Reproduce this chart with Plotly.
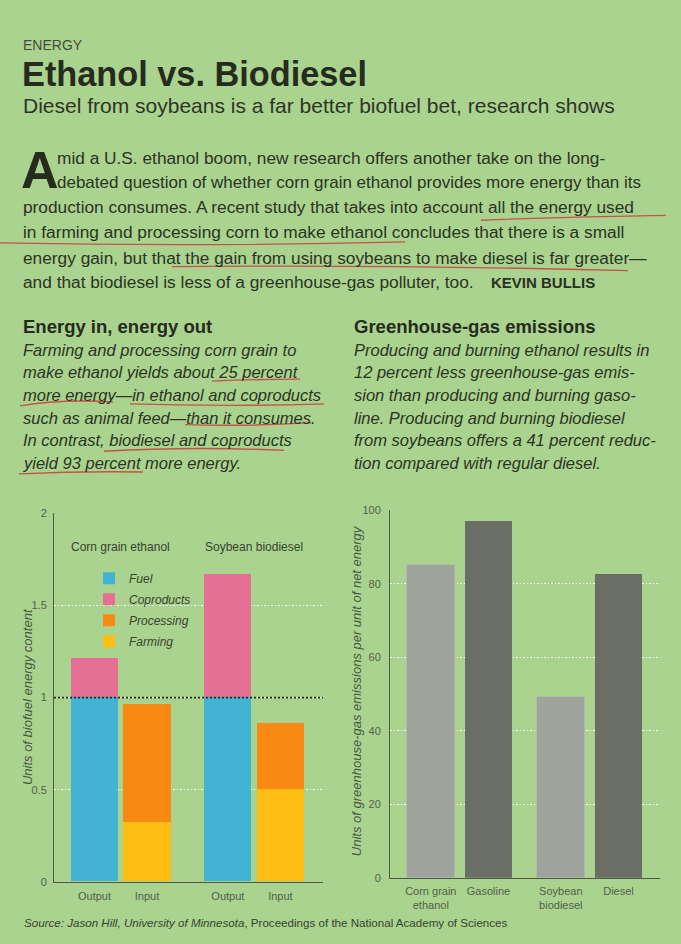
import plotly.graph_objects as go

W, H = 681, 944
BG = "#a9d38e"
TXT = "#2c3324"
GREY = "#4f5846"

# ---------------- data ----------------
energy_groups = ["Corn grain ethanol", "Soybean biodiesel"]
energy_bars = ["Output", "Input", "Output", "Input"]
fuel = [1.00, None, 1.00, None]
coproducts = [0.21, None, 0.67, None]
processing = [None, 0.64, None, 0.36]
farming = [None, 0.32, None, 0.50]
energy_ticks = [0, 0.5, 1, 1.5, 2]
energy_ticktext = ["0", "0.5", "1", "1.5", "2"]

ghg_categories = ["Corn grain<br>ethanol", "Gasoline", "Soybean<br>biodiesel", "Diesel"]
ghg_biofuel = [85, None, 49, None]
ghg_fossil = [None, 97, None, 82.5]
ghg_ticks = [0, 20, 40, 60, 80, 100]

# ---------------- text ----------------
kicker = "ENERGY"
title = "Ethanol vs. Biodiesel"
subtitle = "Diesel from soybeans is a far better biofuel bet, research shows"
body_lines = [
    "mid a U.S. ethanol boom, new research offers another take on the long-",
    "debated question of whether corn grain ethanol provides more energy than its",
    "production consumes. A recent study that takes into account all the energy used",
    "in farming and processing corn to make ethanol concludes that there is a small",
    "energy gain, but that the gain from using soybeans to make diesel is far greater\u2014",
    "and that biodiesel is less of a greenhouse-gas polluter, too.",
]
byline = "KEVIN BULLIS"
left_head = "Energy in, energy out"
left_lines = [
    "Farming and processing corn grain to",
    "make ethanol yields about 25 percent",
    "more energy\u2014in ethanol and coproducts",
    "such as animal feed\u2014than it consumes.",
    "In contrast, biodiesel and coproducts",
    "yield 93 percent more energy.",
]
right_head = "Greenhouse-gas emissions"
right_lines = [
    "Producing and burning ethanol results in",
    "12 percent less greenhouse-gas emis-",
    "sion than producing and burning gaso-",
    "line. Producing and burning biodiesel",
    "from soybeans offers a 41 percent reduc-",
    "tion compared with regular diesel.",
]
source = ("<i>Source: Jason Hill, University of Minnesota</i>, "
          "Proceedings of the National Academy of Sciences")


def px(x):
    return x / W


def py(y):
    return 1 - y / H


FONT = "Liberation Sans, Arial, sans-serif"

# positions of bars (group offset + index within group)
L_GAP = 2.54
pos_left = [g * L_GAP + i for g in range(len(energy_groups)) for i in range(2)]
R_GAP = 2.253
pos_right = [g * R_GAP + i for g in range(2) for i in range(2)]

fig = go.Figure()

colors = {"Fuel": "#43b3d3", "Coproducts": "#e66f96",
          "Processing": "#f88a14", "Farming": "#fdbd12"}
for name, vals, rank in [("Fuel", fuel, 1), ("Farming", farming, 4),
                         ("Coproducts", coproducts, 2), ("Processing", processing, 3)]:
    fig.add_trace(go.Bar(x=pos_left, y=vals, name=name, width=0.9,
                         marker=dict(color=colors[name], line=dict(width=0)),
                         legendrank=rank, legendgroup=name,
                         xaxis="x", yaxis="y", hoverinfo="skip"))

fig.add_trace(go.Bar(x=pos_right, y=ghg_biofuel, width=0.83, showlegend=False,
                     marker=dict(color="#9ea39b", line=dict(width=0.8, color="#b4b8b0")),
                     xaxis="x2", yaxis="y2", hoverinfo="skip"))
fig.add_trace(go.Bar(x=pos_right, y=ghg_fossil, width=0.83, showlegend=False,
                     marker=dict(color="#6b6e64", line=dict(width=0)),
                     xaxis="x2", yaxis="y2", hoverinfo="skip"))

axis_common = dict(showline=True, linecolor=GREY, linewidth=1, ticks="",
                   zeroline=False, tickfont=dict(family=FONT, size=11, color="#55604c"))
grid = dict(showgrid=True, gridcolor="rgba(255,255,255,0.9)", griddash="1.5px,2px",
            gridwidth=1)

fig.update_layout(
    width=W, height=H, margin=dict(l=0, r=0, t=0, b=0),
    paper_bgcolor=BG, plot_bgcolor=BG, barmode="stack", bargap=0,
    font=dict(family=FONT, color=TXT),
    xaxis=dict(domain=[px(54), px(323)], range=[-0.771, 4.352],
               tickvals=pos_left, ticktext=energy_bars, showgrid=False,
               ticklabelstandoff=4, **axis_common),
    yaxis=dict(domain=[py(887), py(514)], range=[0, 2], tickvals=energy_ticks,
               ticktext=energy_ticktext, ticklabelstandoff=4, **grid, **axis_common),
    xaxis2=dict(domain=[px(390), px(660)], range=[-0.707, 3.972],
                tickvals=pos_right, ticktext=ghg_categories, showgrid=False,
                ticklabelstandoff=3, anchor="y2", **axis_common),
    yaxis2=dict(domain=[py(883), py(510.7)], range=[0, 100], tickvals=ghg_ticks,
                ticklabelstandoff=6, anchor="x2", **grid, **axis_common),
    legend=dict(x=px(89), y=py(565), xanchor="left", yanchor="top",
                bgcolor="rgba(0,0,0,0)", tracegroupgap=2,
                font=dict(family=FONT, size=12, color="#3a4231", style="italic")),
    showlegend=True,
)

# dotted line at fuel baseline (1 unit)
fig.add_shape(type="line", xref="x domain", yref="y", x0=0, x1=1, y0=1, y1=1,
              line=dict(color="#26291f", width=1.6, dash="2px,2px"))

ann = []


def text(x, y, s, size, bold=False, italic=False, color=TXT, xanchor="left", **kw):
    ann.append(dict(x=px(x), y=py(y), xref="paper", yref="paper", text=s,
                    showarrow=False, xanchor=xanchor, yanchor="middle",
                    font=dict(family=FONT, size=size, color=color,
                              weight="bold" if bold else "normal",
                              style="italic" if italic else "normal"), **kw))


text(21, 39, kicker, 14, color="#454c3d")
text(20, 69, title, 34.3, bold=True, color="#262b1e")
text(21, 101, subtitle, 21, color="#2f3527")
text(19, 166, "A", 52, bold=True, color="#262b1e")
body_y = [154, 179, 204, 229, 255, 280]
for i, (line, y) in enumerate(zip(body_lines, body_y)):
    text(55 if i < 2 else 21, y, line, 17.3 if i != 1 else 17.0)
text(489, 280, byline, 15, bold=True, color="#2a3022")
text(21, 325, left_head, 18.5, bold=True, color="#262b1e")
text(352, 325, right_head, 18.5, bold=True, color="#262b1e")
it_y = [348, 371, 394, 417, 440, 463]
for line, y in zip(left_lines, it_y):
    text(21, y, line, 16.5, italic=True)
for line, y in zip(right_lines, it_y):
    text(352, y, line, 16.5, italic=True)
text(22, 928, source, 11.6, color="#3a4231")

# chart labels
for g, name in enumerate(energy_groups):
    ann.append(dict(x=g * L_GAP + 0.5, y=1.82, xref="x", yref="y", text=name,
                    showarrow=False, xanchor="center", yanchor="middle",
                    font=dict(family=FONT, size=12, color="#3a4231")))
text(27, 700, "Units of biofuel energy content", 13, italic=True,
     color="#4a5343", xanchor="center", textangle=-90)
text(356, 693, "Units of greenhouse-gas emissions per unit of net energy", 13,
     italic=True, color="#4a5343", xanchor="center", textangle=-90)

fig.update_layout(annotations=ann)

# hand-drawn red underlines from the scanned page
red = dict(color="rgba(205,60,60,0.85)", width=1.3)
underlines = [
    (481, 217, 575, 213, 666, 212),
    (0, 240, 200, 244, 405, 239),
    (172, 264, 400, 262, 628, 268),
    (212, 380, 256, 378, 300, 378),
    (20, 405, 60, 398, 113, 401),
    (130, 403, 230, 406, 324, 403),
    (185, 424, 250, 426, 311, 422),
    (104, 451, 190, 446, 284, 450),
    (19, 474, 80, 471, 143, 472),
]
for x0, y0, cx, cy, x1, y1 in underlines:
    fig.add_shape(type="path", xref="paper", yref="paper", line=red,
                  path=f"M {px(x0)},{py(y0)} Q {px(cx)},{py(cy)} {px(x1)},{py(y1)}")

fig.write_html("out.html", config={"displayModeBar": False},
               post_script="document.body.style.margin='0';")
